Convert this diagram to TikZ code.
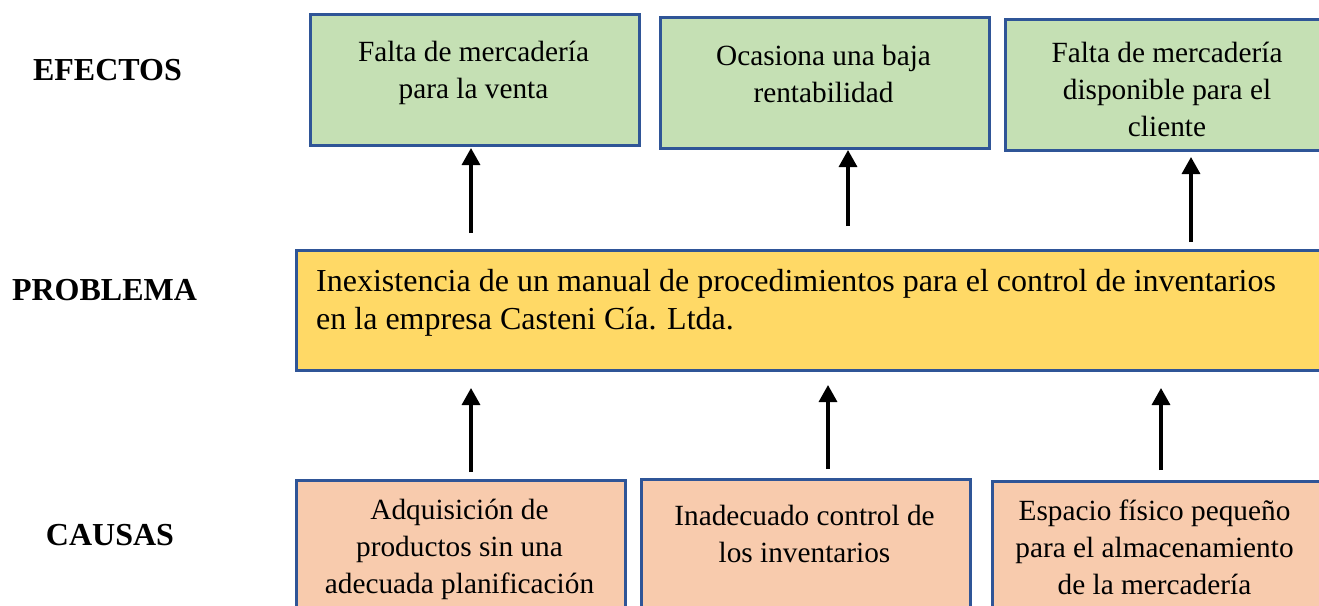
\documentclass[tikz,border=0pt]{standalone}
\usepackage{fontspec}
\setmainfont{Liberation Serif}
\usetikzlibrary{arrows.meta}
\definecolor{efill}{HTML}{C5E0B4}
\definecolor{pfill}{HTML}{FFD966}
\definecolor{cfill}{HTML}{F8CBAD}
\definecolor{bord}{HTML}{2F5597}
\tikzset{
  box/.style={draw=bord, line width=2.5pt, rectangle, anchor=north west, inner sep=0pt},
  txt/.style={inner sep=0pt, anchor=north, align=center, font=\fontsize{29.3}{37}\selectfont},
  ptxt/.style={inner sep=0pt, anchor=north west, align=left, font=\fontsize{32}{38.5}\selectfont},
  lbl/.style={inner sep=0pt, anchor=base, font=\fontsize{32}{38}\selectfont\bfseries},
  arr/.style={line width=3.3pt, -{Triangle[width=18pt,length=17pt]}}
}
\begin{document}
\begin{tikzpicture}[x=1pt,y=-1pt]
\useasboundingbox (0,0) rectangle (1319,605);
\clip (0,0) rectangle (1319,605);
% labels
\node[lbl] (lef) at (107.5,80) {EFECTOS};
\node[lbl] (lpr) at (104.5,300) {PROBLEMA};
\node[lbl] (lca) at (110,545) {CAUSAS};
% effect boxes
\node[box, fill=efill, minimum width=329pt, minimum height=131pt] (e1b) at (309,13) {};
\node[box, fill=efill, minimum width=329pt, minimum height=131pt] (e2b) at (659,16) {};
\node[box, fill=efill, minimum width=326pt, minimum height=131pt] (e3b) at (1004,18) {};
\node[txt] (e1) at (473.5,40.8) {Falta de mercadería\\para la venta};
\node[txt] (e2) at (823.5,44.8) {Ocasiona una baja\\rentabilidad};
\node[txt] (e3) at (1167,42.3) {Falta de mercadería\\disponible para el\\cliente};
% problem
\node[box, fill=pfill, minimum width=1035pt, minimum height=120pt] (pb) at (295,249) {};
\node[ptxt] (p) at (316,269) {Inexistencia de un manual de procedimientos para el control de inventarios\\en la empresa Casteni Cía. Ltda.};
% causes
\node[box, fill=cfill, minimum width=329pt, minimum height=141pt] (c1b) at (295,479) {};
\node[box, fill=cfill, minimum width=329pt, minimum height=142pt] (c2b) at (640,478) {};
\node[box, fill=cfill, minimum width=331pt, minimum height=140pt] (c3b) at (991,480) {};
\node[txt] (c1) at (459.5,498.8) {Adquisición de\\productos sin una\\adecuada planificación};
\node[txt] (c2) at (804.5,504.8) {Inadecuado control de\\los inventarios};
\node[txt] (c3) at (1154.5,499.8) {Espacio físico pequeño\\para el almacenamiento\\de la mercadería};
% arrow end points
\coordinate (a1s) at (471,233); \coordinate (a1e) at (471,148);
\coordinate (a2s) at (848,226); \coordinate (a2e) at (848,150);
\coordinate (a3s) at (1191,242); \coordinate (a3e) at (1191,157);
\coordinate (a4s) at (471,472); \coordinate (a4e) at (471,388);
\coordinate (a5s) at (828,469); \coordinate (a5e) at (828,385);
\coordinate (a6s) at (1161,470); \coordinate (a6e) at (1161,388);
\draw[arr] (a1s) -- (a1e);
\draw[arr] (a2s) -- (a2e);
\draw[arr] (a3s) -- (a3e);
\draw[arr] (a4s) -- (a4e);
\draw[arr] (a5s) -- (a5e);
\draw[arr] (a6s) -- (a6e);
\end{tikzpicture}
\end{document}
